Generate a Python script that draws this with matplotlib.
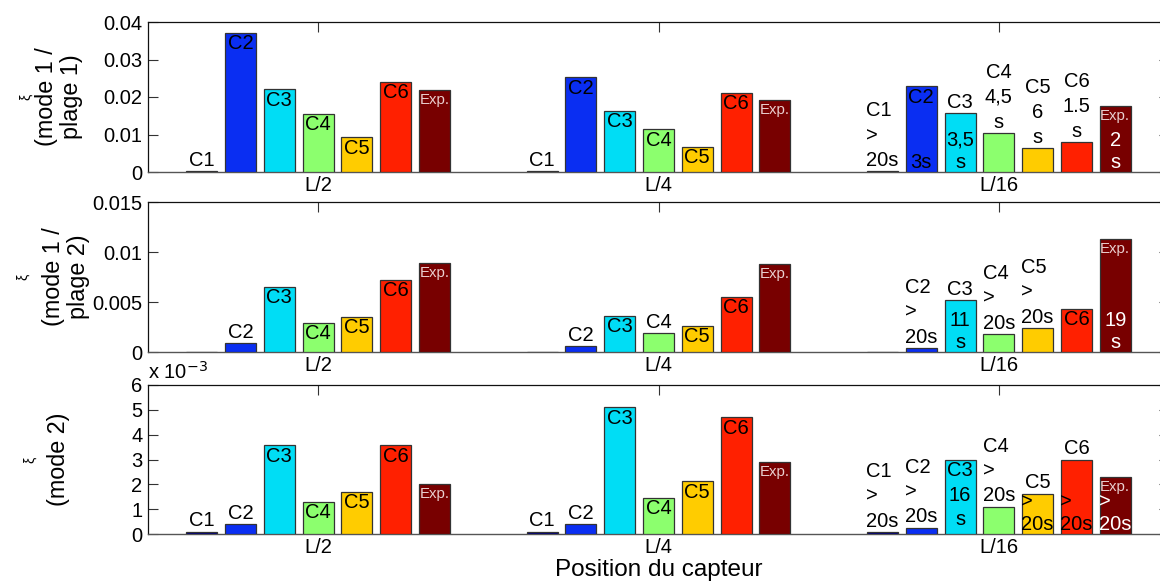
import matplotlib
matplotlib.use("Agg")
import matplotlib.pyplot as plt
import numpy as np
from matplotlib.ticker import FuncFormatter, FixedLocator

plt.rcParams['font.family'] = ['Liberation Sans', 'DejaVu Sans']

# ---------------- data ----------------
groups = ['L/2', 'L/4', 'L/16']
cases = ['C1', 'C2', 'C3', 'C4', 'C5', 'C6', 'Exp.']
case_colors = ['#000080', '#0A2EF2', '#00DDF5', '#8CFF6E', '#FFCC00', '#FF2000', '#780000']

# xi (mode 1 / plage 1), rows = groups, cols = cases
xi_m1_p1 = [
    [0.0002, 0.0371, 0.0221, 0.0155, 0.0093, 0.0240, 0.0218],
    [0.0002, 0.0253, 0.0163, 0.0114, 0.0067, 0.0211, 0.0191],
    [0.0002, 0.0229, 0.0157, 0.0104, 0.0064, 0.0080, 0.0176],
]
# xi (mode 1 / plage 2)
xi_m1_p2 = [
    [0.0, 0.0009, 0.0065, 0.0029, 0.0035, 0.0072, 0.0089],
    [0.0, 0.0006, 0.0036, 0.0019, 0.0026, 0.0055, 0.0088],
    [0.0, 0.0004, 0.0052, 0.0018, 0.0024, 0.0043, 0.0113],
]
# xi (mode 2), in units of 1e-3
xi_m2 = [
    [0.10, 0.40, 3.57, 1.30, 1.70, 3.57, 2.00],
    [0.10, 0.40, 5.10, 1.45, 2.12, 4.70, 2.90],
    [0.08, 0.25, 3.00, 1.10, 1.62, 3.00, 2.30],
]

# labels per bar: (above bar, inside top, inside base)
def L(a='', i='', b=''):
    return (a, i, b)

std_inside = [L(i='C2'), L(i='C3'), L(i='C4'), L(i='C5'), L(i='C6'), L(i='Exp.')]

labels_m1_p1 = [
    [L(a='C1')] + std_inside,
    [L(a='C1')] + std_inside,
    [L(a='C1\n>\n20s'), L(i='C2', b='3s'), L(a='C3', b='3,5\ns'), L(a='C4\n4,5\ns'),
     L(a='C5\n6\ns'), L(a='C6\n1.5\ns'), L(i='Exp.', b='2\ns')],
]
labels_m1_p2 = [
    [L(), L(a='C2'), L(i='C3'), L(i='C4'), L(i='C5'), L(i='C6'), L(i='Exp.')],
    [L(), L(a='C2'), L(i='C3'), L(a='C4'), L(i='C5'), L(i='C6'), L(i='Exp.')],
    [L(), L(a='C2\n>\n20s'), L(a='C3', b='11\ns'), L(a='C4\n>\n20s'), L(a='C5\n>\n20s'),
     L(i='C6'), L(i='Exp.', b='19\ns')],
]
labels_m2 = [
    [L(a='C1'), L(a='C2'), L(i='C3'), L(i='C4'), L(i='C5'), L(i='C6'), L(i='Exp.')],
    [L(a='C1'), L(a='C2'), L(i='C3'), L(i='C4'), L(i='C5'), L(i='C6'), L(i='Exp.')],
    [L(a='C1\n>\n20s'), L(a='C2\n>\n20s'), L(i='C3\n16\ns'), L(a='C4\n>\n20s'),
     L(a='C5', b='>\n20s'), L(a='C6', b='>\n20s'), L(i='Exp.', b='>\n20s')],
]

panels = [
    dict(vals=xi_m1_p1, labels=labels_m1_p1, ylim=(0, 0.04), yticks=[0, 0.01, 0.02, 0.03, 0.04],
         ylab=['(mode 1 /', 'plage 1)']),
    dict(vals=xi_m1_p2, labels=labels_m1_p2, ylim=(0, 0.015), yticks=[0, 0.005, 0.01, 0.015],
         ylab=['(mode 1 /', 'plage 2)']),
    dict(vals=xi_m2, labels=labels_m2, ylim=(0, 6), yticks=[0, 1, 2, 3, 4, 5, 6],
         ylab=['(mode 2)']),
]

# ---------------- figure ----------------
W, H = 1160, 585
fig = plt.figure(figsize=(W / 100, H / 100), dpi=100)

ax_left = 148 / W
ax_width = (1169 - 148) / W
ax_boxes = [(22, 172), (202, 352), (385, 534)]
ylab_x = [(26, 59), (23, 66), (30, 58)]

n_case = len(cases)
step = 0.114
bar_w = 0.091
x_groups = np.arange(1, len(groups) + 1)

FS = 14.5   # ticks / bar labels
LS = 1.38
LS_BASE = 1.2
for p, (panel, (ytop, ybot)) in enumerate(zip(panels, ax_boxes)):
    ax = fig.add_axes([ax_left, (H - ybot) / H, ax_width, (ybot - ytop) / H])
    ax.set_axisbelow(True)
    vals = np.array(panel['vals'])
    for j in range(n_case):
        xs = x_groups + (j - (n_case - 1) / 2) * step
        ax.bar(xs, vals[:, j], width=bar_w, color=case_colors[j],
               edgecolor='#333333', linewidth=0.9, zorder=3)
        for g in range(len(groups)):
            above, inside, base = panel['labels'][g][j]
            v = vals[g, j]
            x = xs[g]
            is_exp = (j == n_case - 1)
            ma = 'left' if '>' in (above + inside + base) else 'center'
            if above:
                ax.annotate(above, (x, v), xytext=(0, 1), textcoords='offset points',
                            ha='center', va='bottom', fontsize=FS, multialignment=ma,
                            linespacing=LS, zorder=5)
            if inside:
                if inside == 'Exp.':
                    ax.annotate(inside, (x, v), xytext=(0, -2), textcoords='offset points',
                                ha='center', va='top', fontsize=10.8, color='#EAD0D0',
                                zorder=5)
                else:
                    ax.annotate(inside, (x, v), xytext=(0, -1), textcoords='offset points',
                                ha='center', va='top', fontsize=FS, multialignment=ma,
                                linespacing=LS, zorder=5)
            if base:
                ax.annotate(base, (x, 0), xytext=(0, 0), textcoords='offset points',
                            ha='center', va='bottom', fontsize=FS, multialignment=ma,
                            color='white' if is_exp else 'black', linespacing=LS_BASE,
                            zorder=5)

    ax.set_xlim(0.5, len(groups) + 0.5)
    ax.set_ylim(*panel['ylim'])
    ax.yaxis.set_major_locator(FixedLocator(panel['yticks']))
    ax.yaxis.set_major_formatter(FuncFormatter(lambda v, pos: '%g' % v))
    ax.set_xticks(x_groups)
    ax.set_xticklabels(groups)
    ax.tick_params(axis='both', direction='in', length=7.3, width=0.8, labelsize=FS,
                   top=True, right=True, color='#333333')
    ax.tick_params(axis='x', pad=3)
    ax.tick_params(axis='y', pad=4)
    for side in ['top', 'left', 'right']:
        ax.spines[side].set_color('#111111')
        ax.spines[side].set_linewidth(0.9)
    ax.spines['bottom'].set_color('#555555')
    ax.spines['bottom'].set_linewidth(1.0)

    # y labels
    cy = 1 - ((ytop + ybot) / 2) / H
    xx, xl = ylab_x[p]
    fig.text(xx / W, cy, 'ξ', rotation=90, ha='center', va='center', fontsize=10)
    fig.text(xl / W, cy, '\n'.join(panel['ylab']), rotation=90, ha='center', va='center',
             fontsize=16.8, linespacing=1.1)

    if p == 2:
        ax.text(0.0, 1.012, r'x 10$^{-3}$', transform=ax.transAxes, ha='left', va='bottom',
                fontsize=FS)
        ax.set_xlabel('Position du capteur', fontsize=17.5, labelpad=1)

fig.savefig('out.png', dpi=100)
